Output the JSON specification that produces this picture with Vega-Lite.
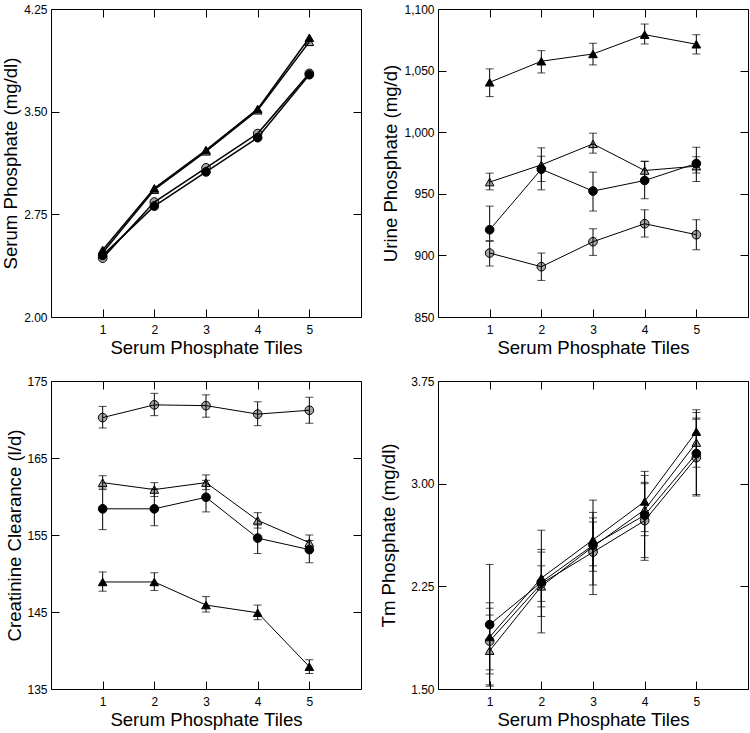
{
  "$schema": "https://vega.github.io/schema/vega-lite/v6.json",
  "padding": {"top": 2, "left": 0, "right": 0, "bottom": 0},
  "background": "white",
  "columns": 2,
  "spacing": {"row": 64, "column": 77},
  "bounds": "flush",
  "config": {
    "font": "Liberation Sans",
    "view": {"stroke": "black", "strokeWidth": 1},
    "axis": {"domain": false, "grid": false, "tickSize": -8, "tickColor": "black", "tickWidth": 1, "labelFontSize": 12, "labelColor": "black", "titleFontSize": 18.6, "titleFontWeight": "normal", "titleColor": "black", "labelPadding": 12, "titlePadding": 4, "labelFont": "Liberation Sans", "titleFont": "Liberation Sans"},
    "axisBottom": {"labelPadding": 15, "titlePadding": 3}
  },
  "datasets": {
    "d": [
      {"p": "A", "t": 1, "s": "bt", "v": 2.49}, {"p": "A", "t": 2, "s": "bt", "v": 2.94}, {"p": "A", "t": 3, "s": "bt", "v": 3.22}, {"p": "A", "t": 4, "s": "bt", "v": 3.52}, {"p": "A", "t": 5, "s": "bt", "v": 4.04},
      {"p": "A", "t": 1, "s": "gt", "v": 2.47}, {"p": "A", "t": 2, "s": "gt", "v": 2.93}, {"p": "A", "t": 3, "s": "gt", "v": 3.21}, {"p": "A", "t": 4, "s": "gt", "v": 3.51}, {"p": "A", "t": 5, "s": "gt", "v": 4.01},
      {"p": "A", "t": 1, "s": "gc", "v": 2.43}, {"p": "A", "t": 2, "s": "gc", "v": 2.84}, {"p": "A", "t": 3, "s": "gc", "v": 3.09}, {"p": "A", "t": 4, "s": "gc", "v": 3.34}, {"p": "A", "t": 5, "s": "gc", "v": 3.78},
      {"p": "A", "t": 1, "s": "bc", "v": 2.45}, {"p": "A", "t": 2, "s": "bc", "v": 2.81}, {"p": "A", "t": 3, "s": "bc", "v": 3.06}, {"p": "A", "t": 4, "s": "bc", "v": 3.31}, {"p": "A", "t": 5, "s": "bc", "v": 3.77},

      {"p": "B", "t": 1, "s": "bt", "v": 1040.5, "lo": 1028.9, "hi": 1051.4}, {"p": "B", "t": 2, "s": "bt", "v": 1057.6, "lo": 1048.1, "hi": 1066.2}, {"p": "B", "t": 3, "s": "bt", "v": 1063.5, "lo": 1054.6, "hi": 1072.2}, {"p": "B", "t": 4, "s": "bt", "v": 1079.2, "lo": 1071.6, "hi": 1087.8}, {"p": "B", "t": 5, "s": "bt", "v": 1071.4, "lo": 1063.5, "hi": 1079.2},
      {"p": "B", "t": 1, "s": "gt", "v": 959.5, "lo": 953.2, "hi": 966.8}, {"p": "B", "t": 2, "s": "gt", "v": 973.5, "lo": 960, "hi": 987.3}, {"p": "B", "t": 3, "s": "gt", "v": 990.5, "lo": 983, "hi": 999.2}, {"p": "B", "t": 4, "s": "gt", "v": 968.9, "lo": 961, "hi": 976.5}, {"p": "B", "t": 5, "s": "gt", "v": 972.4, "lo": 966.8, "hi": 980},
      {"p": "B", "t": 1, "s": "bc", "v": 920.8, "lo": 912, "hi": 940}, {"p": "B", "t": 2, "s": "bc", "v": 970, "lo": 953.2, "hi": 980.5}, {"p": "B", "t": 3, "s": "bc", "v": 952.2, "lo": 936, "hi": 967.6}, {"p": "B", "t": 4, "s": "bc", "v": 960.8, "lo": 946, "hi": 976.2}, {"p": "B", "t": 5, "s": "bc", "v": 974.6, "lo": 960, "hi": 987.8},
      {"p": "B", "t": 1, "s": "gc", "v": 901.9, "lo": 891.4, "hi": 911.4}, {"p": "B", "t": 2, "s": "gc", "v": 890.8, "lo": 879.7, "hi": 901.9}, {"p": "B", "t": 3, "s": "gc", "v": 911.1, "lo": 900, "hi": 921.6}, {"p": "B", "t": 4, "s": "gc", "v": 925.7, "lo": 914.9, "hi": 937}, {"p": "B", "t": 5, "s": "gc", "v": 916.8, "lo": 904.6, "hi": 928.9},

      {"p": "C", "t": 1, "s": "gc", "v": 170.25, "lo": 168.9, "hi": 171.7}, {"p": "C", "t": 2, "s": "gc", "v": 171.9, "lo": 170.5, "hi": 173.4}, {"p": "C", "t": 3, "s": "gc", "v": 171.8, "lo": 170.3, "hi": 173.2}, {"p": "C", "t": 4, "s": "gc", "v": 170.7, "lo": 169.2, "hi": 172.3}, {"p": "C", "t": 5, "s": "gc", "v": 171.2, "lo": 169.5, "hi": 172.9},
      {"p": "C", "t": 1, "s": "gt", "v": 161.8, "lo": 160.9, "hi": 162.7}, {"p": "C", "t": 2, "s": "gt", "v": 160.9, "lo": 160, "hi": 161.8}, {"p": "C", "t": 3, "s": "gt", "v": 161.8, "lo": 160.9, "hi": 162.8}, {"p": "C", "t": 4, "s": "gt", "v": 156.9, "lo": 155.9, "hi": 157.9}, {"p": "C", "t": 5, "s": "gt", "v": 154.0, "lo": 153, "hi": 155},
      {"p": "C", "t": 1, "s": "bc", "v": 158.4, "lo": 155.7, "hi": 161.1}, {"p": "C", "t": 2, "s": "bc", "v": 158.4, "lo": 156.2, "hi": 161}, {"p": "C", "t": 3, "s": "bc", "v": 159.9, "lo": 158, "hi": 162.1}, {"p": "C", "t": 4, "s": "bc", "v": 154.6, "lo": 152.6, "hi": 156.3}, {"p": "C", "t": 5, "s": "bc", "v": 153.1, "lo": 151.4, "hi": 154.3},
      {"p": "C", "t": 1, "s": "bt", "v": 148.9, "lo": 147.7, "hi": 150.2}, {"p": "C", "t": 2, "s": "bt", "v": 148.9, "lo": 147.8, "hi": 150.1}, {"p": "C", "t": 3, "s": "bt", "v": 145.9, "lo": 145, "hi": 147}, {"p": "C", "t": 4, "s": "bt", "v": 144.9, "lo": 144, "hi": 145.9}, {"p": "C", "t": 5, "s": "bt", "v": 137.9, "lo": 137, "hi": 138.8},

      {"p": "D", "t": 1, "s": "bc", "v": 1.97, "lo": 1.53, "hi": 2.41}, {"p": "D", "t": 2, "s": "bc", "v": 2.28, "lo": 1.91, "hi": 2.66}, {"p": "D", "t": 3, "s": "bc", "v": 2.55, "lo": 2.19, "hi": 2.88}, {"p": "D", "t": 4, "s": "bc", "v": 2.77, "lo": 2.46, "hi": 3.06}, {"p": "D", "t": 5, "s": "bc", "v": 3.22, "lo": 2.92, "hi": 3.52},
      {"p": "D", "t": 1, "s": "bt", "v": 1.88, "lo": 1.64, "hi": 2.13}, {"p": "D", "t": 2, "s": "bt", "v": 2.31, "lo": 2.10, "hi": 2.52}, {"p": "D", "t": 3, "s": "bt", "v": 2.59, "lo": 2.40, "hi": 2.79}, {"p": "D", "t": 4, "s": "bt", "v": 2.87, "lo": 2.65, "hi": 3.09}, {"p": "D", "t": 5, "s": "bt", "v": 3.38, "lo": 3.22, "hi": 3.54},
      {"p": "D", "t": 1, "s": "gt", "v": 1.78, "lo": 1.52, "hi": 2.04}, {"p": "D", "t": 2, "s": "gt", "v": 2.25, "lo": 2.03, "hi": 2.50}, {"p": "D", "t": 3, "s": "gt", "v": 2.54, "lo": 2.36, "hi": 2.75}, {"p": "D", "t": 4, "s": "gt", "v": 2.81, "lo": 2.62, "hi": 3.00}, {"p": "D", "t": 5, "s": "gt", "v": 3.30, "lo": 3.12, "hi": 3.48},
      {"p": "D", "t": 1, "s": "gc", "v": 1.85, "lo": 1.61, "hi": 2.09}, {"p": "D", "t": 2, "s": "gc", "v": 2.27, "lo": 2.14, "hi": 2.40}, {"p": "D", "t": 3, "s": "gc", "v": 2.50, "lo": 2.26, "hi": 2.72}, {"p": "D", "t": 4, "s": "gc", "v": 2.73, "lo": 2.44, "hi": 3.01}, {"p": "D", "t": 5, "s": "gc", "v": 3.19, "lo": 2.91, "hi": 3.47}
    ]
  },
  "concat": [
    {
      "width": 310, "height": 308,
      "data": {"name": "d"},
      "transform": [{"filter": "datum.p == 'A'"}],
      "resolve": {"axis": {"x": "independent", "y": "independent"}},
      "layer": [
        {
          "transform": [{"filter": "datum.s == 'gc' || datum.s == 'gt'"}],
          "mark": {"type": "point", "filled": true, "size": 75, "stroke": "black", "strokeWidth": 1, "opacity": 1},
          "encoding": {
            "x": {"field": "t", "type": "quantitative", "scale": {"domain": [0, 6], "nice": false}, "axis": {"orient": "bottom", "values": [1, 2, 3, 4, 5], "format": "d", "title": "Serum Phosphate Tiles"}},
            "y": {"field": "v", "type": "quantitative", "scale": {"domain": [2, 4.25], "nice": false, "zero": false}, "axis": {"orient": "left", "values": [2, 2.75, 3.5, 4.25], "format": ".2f", "title": "Serum Phosphate (mg/dl)", "minExtent": 27, "maxExtent": 27}},
            "shape": {"field": "s", "type": "nominal", "scale": {"domain": ["bc", "gc", "gt", "bt"], "range": ["circle", "circle", "triangle-up", "triangle-up"]}, "legend": null},
            "fill": {"field": "s", "type": "nominal", "scale": {"domain": ["bc", "gc", "gt", "bt"], "range": ["black", "#a6a6a6", "#a6a6a6", "black"]}, "legend": null}
          }
        },
        {
          "mark": {"type": "line", "color": "black", "strokeWidth": 1.5},
          "encoding": {
            "x": {"field": "t", "type": "quantitative", "scale": {"domain": [0, 6], "nice": false}, "axis": {"orient": "top", "values": [1, 2, 3, 4, 5], "labels": false, "title": null}},
            "y": {"field": "v", "type": "quantitative", "scale": {"domain": [2, 4.25], "nice": false, "zero": false}, "axis": {"orient": "right", "values": [2, 2.75, 3.5, 4.25], "labels": false, "title": null}},
            "detail": {"field": "s", "type": "nominal"}
          }
        },
        {
          "transform": [{"filter": "datum.s == 'bc' || datum.s == 'bt'"}],
          "mark": {"type": "point", "filled": true, "size": 75, "stroke": "black", "strokeWidth": 1, "opacity": 1},
          "encoding": {
            "x": {"field": "t", "type": "quantitative", "scale": {"domain": [0, 6], "nice": false}, "axis": null},
            "y": {"field": "v", "type": "quantitative", "scale": {"domain": [2, 4.25], "nice": false, "zero": false}, "axis": null},
            "shape": {"field": "s", "type": "nominal", "scale": {"domain": ["bc", "gc", "gt", "bt"], "range": ["circle", "circle", "triangle-up", "triangle-up"]}, "legend": null},
            "fill": {"field": "s", "type": "nominal", "scale": {"domain": ["bc", "gc", "gt", "bt"], "range": ["black", "#a6a6a6", "#a6a6a6", "black"]}, "legend": null}
          }
        }
      ]
    },
    {
      "width": 310, "height": 308,
      "data": {"name": "d"},
      "transform": [{"filter": "datum.p == 'B'"}],
      "resolve": {"axis": {"x": "independent", "y": "independent"}},
      "layer": [
        {
          "transform": [{"filter": "datum.s == 'gc' || datum.s == 'gt'"}],
          "mark": {"type": "point", "filled": true, "size": 75, "stroke": "black", "strokeWidth": 1, "opacity": 1},
          "encoding": {
            "x": {"field": "t", "type": "quantitative", "scale": {"domain": [0, 6], "nice": false}, "axis": {"orient": "bottom", "values": [1, 2, 3, 4, 5], "format": "d", "title": "Serum Phosphate Tiles"}},
            "y": {"field": "v", "type": "quantitative", "scale": {"domain": [850, 1100], "nice": false, "zero": false}, "axis": {"orient": "left", "values": [850, 900, 950, 1000, 1050, 1100], "format": ",d", "title": "Urine Phosphate (mg/d)", "minExtent": 34, "maxExtent": 34}},
            "shape": {"field": "s", "type": "nominal", "scale": {"domain": ["bc", "gc", "gt", "bt"], "range": ["circle", "circle", "triangle-up", "triangle-up"]}, "legend": null},
            "fill": {"field": "s", "type": "nominal", "scale": {"domain": ["bc", "gc", "gt", "bt"], "range": ["black", "#a6a6a6", "#a6a6a6", "black"]}, "legend": null}
          }
        },
        {
          "mark": {"type": "line", "color": "black", "strokeWidth": 1},
          "encoding": {
            "x": {"field": "t", "type": "quantitative", "scale": {"domain": [0, 6], "nice": false}, "axis": {"orient": "top", "values": [1, 2, 3, 4, 5], "labels": false, "title": null}},
            "y": {"field": "v", "type": "quantitative", "scale": {"domain": [850, 1100], "nice": false, "zero": false}, "axis": {"orient": "right", "values": [850, 900, 950, 1000, 1050, 1100], "labels": false, "title": null}},
            "detail": {"field": "s", "type": "nominal"}
          }
        },
        {
          "mark": {"type": "errorbar", "color": "black", "thickness": 1, "ticks": {"size": 8, "thickness": 1}},
          "encoding": {
            "x": {"field": "t", "type": "quantitative", "scale": {"domain": [0, 6], "nice": false}, "axis": null},
            "y": {"field": "lo", "type": "quantitative", "scale": {"domain": [850, 1100], "nice": false, "zero": false}, "axis": null},
            "y2": {"field": "hi"},
            "detail": {"field": "s", "type": "nominal"}
          }
        },
        {
          "transform": [{"filter": "datum.s == 'bc' || datum.s == 'bt'"}],
          "mark": {"type": "point", "filled": true, "size": 75, "stroke": "black", "strokeWidth": 1, "opacity": 1},
          "encoding": {
            "x": {"field": "t", "type": "quantitative", "scale": {"domain": [0, 6], "nice": false}, "axis": null},
            "y": {"field": "v", "type": "quantitative", "scale": {"domain": [850, 1100], "nice": false, "zero": false}, "axis": null},
            "shape": {"field": "s", "type": "nominal", "scale": {"domain": ["bc", "gc", "gt", "bt"], "range": ["circle", "circle", "triangle-up", "triangle-up"]}, "legend": null},
            "fill": {"field": "s", "type": "nominal", "scale": {"domain": ["bc", "gc", "gt", "bt"], "range": ["black", "#a6a6a6", "#a6a6a6", "black"]}, "legend": null}
          }
        }
      ]
    },
    {
      "width": 310, "height": 308,
      "data": {"name": "d"},
      "transform": [{"filter": "datum.p == 'C'"}],
      "resolve": {"axis": {"x": "independent", "y": "independent"}},
      "layer": [
        {
          "transform": [{"filter": "datum.s == 'gc' || datum.s == 'gt'"}],
          "mark": {"type": "point", "filled": true, "size": 75, "stroke": "black", "strokeWidth": 1, "opacity": 1},
          "encoding": {
            "x": {"field": "t", "type": "quantitative", "scale": {"domain": [0, 6], "nice": false}, "axis": {"orient": "bottom", "values": [1, 2, 3, 4, 5], "format": "d", "title": "Serum Phosphate Tiles"}},
            "y": {"field": "v", "type": "quantitative", "scale": {"domain": [135, 175], "nice": false, "zero": false}, "axis": {"orient": "left", "values": [135, 145, 155, 165, 175], "format": "d", "title": "Creatinine Clearance (l/d)", "minExtent": 23, "maxExtent": 23}},
            "shape": {"field": "s", "type": "nominal", "scale": {"domain": ["bc", "gc", "gt", "bt"], "range": ["circle", "circle", "triangle-up", "triangle-up"]}, "legend": null},
            "fill": {"field": "s", "type": "nominal", "scale": {"domain": ["bc", "gc", "gt", "bt"], "range": ["black", "#a6a6a6", "#a6a6a6", "black"]}, "legend": null}
          }
        },
        {
          "mark": {"type": "line", "color": "black", "strokeWidth": 1},
          "encoding": {
            "x": {"field": "t", "type": "quantitative", "scale": {"domain": [0, 6], "nice": false}, "axis": {"orient": "top", "values": [1, 2, 3, 4, 5], "labels": false, "title": null}},
            "y": {"field": "v", "type": "quantitative", "scale": {"domain": [135, 175], "nice": false, "zero": false}, "axis": {"orient": "right", "values": [135, 145, 155, 165, 175], "labels": false, "title": null}},
            "detail": {"field": "s", "type": "nominal"}
          }
        },
        {
          "mark": {"type": "errorbar", "color": "black", "thickness": 1, "ticks": {"size": 8, "thickness": 1}},
          "encoding": {
            "x": {"field": "t", "type": "quantitative", "scale": {"domain": [0, 6], "nice": false}, "axis": null},
            "y": {"field": "lo", "type": "quantitative", "scale": {"domain": [135, 175], "nice": false, "zero": false}, "axis": null},
            "y2": {"field": "hi"},
            "detail": {"field": "s", "type": "nominal"}
          }
        },
        {
          "transform": [{"filter": "datum.s == 'bc' || datum.s == 'bt'"}],
          "mark": {"type": "point", "filled": true, "size": 75, "stroke": "black", "strokeWidth": 1, "opacity": 1},
          "encoding": {
            "x": {"field": "t", "type": "quantitative", "scale": {"domain": [0, 6], "nice": false}, "axis": null},
            "y": {"field": "v", "type": "quantitative", "scale": {"domain": [135, 175], "nice": false, "zero": false}, "axis": null},
            "shape": {"field": "s", "type": "nominal", "scale": {"domain": ["bc", "gc", "gt", "bt"], "range": ["circle", "circle", "triangle-up", "triangle-up"]}, "legend": null},
            "fill": {"field": "s", "type": "nominal", "scale": {"domain": ["bc", "gc", "gt", "bt"], "range": ["black", "#a6a6a6", "#a6a6a6", "black"]}, "legend": null}
          }
        }
      ]
    },
    {
      "width": 310, "height": 308,
      "data": {"name": "d"},
      "transform": [{"filter": "datum.p == 'D'"}],
      "resolve": {"axis": {"x": "independent", "y": "independent"}},
      "layer": [
        {
          "transform": [{"filter": "datum.s == 'gc' || datum.s == 'gt'"}],
          "mark": {"type": "point", "filled": true, "size": 75, "stroke": "black", "strokeWidth": 1, "opacity": 1},
          "encoding": {
            "x": {"field": "t", "type": "quantitative", "scale": {"domain": [0, 6], "nice": false}, "axis": {"orient": "bottom", "values": [1, 2, 3, 4, 5], "format": "d", "title": "Serum Phosphate Tiles"}},
            "y": {"field": "v", "type": "quantitative", "scale": {"domain": [1.5, 3.75], "nice": false, "zero": false}, "axis": {"orient": "left", "values": [1.5, 2.25, 3, 3.75], "format": ".2f", "title": "Tm Phosphate (mg/dl)", "minExtent": 36, "maxExtent": 36}},
            "shape": {"field": "s", "type": "nominal", "scale": {"domain": ["bc", "gc", "gt", "bt"], "range": ["circle", "circle", "triangle-up", "triangle-up"]}, "legend": null},
            "fill": {"field": "s", "type": "nominal", "scale": {"domain": ["bc", "gc", "gt", "bt"], "range": ["black", "#a6a6a6", "#a6a6a6", "black"]}, "legend": null}
          }
        },
        {
          "mark": {"type": "line", "color": "black", "strokeWidth": 1},
          "encoding": {
            "x": {"field": "t", "type": "quantitative", "scale": {"domain": [0, 6], "nice": false}, "axis": {"orient": "top", "values": [1, 2, 3, 4, 5], "labels": false, "title": null}},
            "y": {"field": "v", "type": "quantitative", "scale": {"domain": [1.5, 3.75], "nice": false, "zero": false}, "axis": {"orient": "right", "values": [1.5, 2.25, 3, 3.75], "labels": false, "title": null}},
            "detail": {"field": "s", "type": "nominal"}
          }
        },
        {
          "mark": {"type": "errorbar", "color": "black", "thickness": 1, "ticks": {"size": 8, "thickness": 1}},
          "encoding": {
            "x": {"field": "t", "type": "quantitative", "scale": {"domain": [0, 6], "nice": false}, "axis": null},
            "y": {"field": "lo", "type": "quantitative", "scale": {"domain": [1.5, 3.75], "nice": false, "zero": false}, "axis": null},
            "y2": {"field": "hi"},
            "detail": {"field": "s", "type": "nominal"}
          }
        },
        {
          "transform": [{"filter": "datum.s == 'bc' || datum.s == 'bt'"}],
          "mark": {"type": "point", "filled": true, "size": 75, "stroke": "black", "strokeWidth": 1, "opacity": 1},
          "encoding": {
            "x": {"field": "t", "type": "quantitative", "scale": {"domain": [0, 6], "nice": false}, "axis": null},
            "y": {"field": "v", "type": "quantitative", "scale": {"domain": [1.5, 3.75], "nice": false, "zero": false}, "axis": null},
            "shape": {"field": "s", "type": "nominal", "scale": {"domain": ["bc", "gc", "gt", "bt"], "range": ["circle", "circle", "triangle-up", "triangle-up"]}, "legend": null},
            "fill": {"field": "s", "type": "nominal", "scale": {"domain": ["bc", "gc", "gt", "bt"], "range": ["black", "#a6a6a6", "#a6a6a6", "black"]}, "legend": null}
          }
        }
      ]
    }
  ]
}
